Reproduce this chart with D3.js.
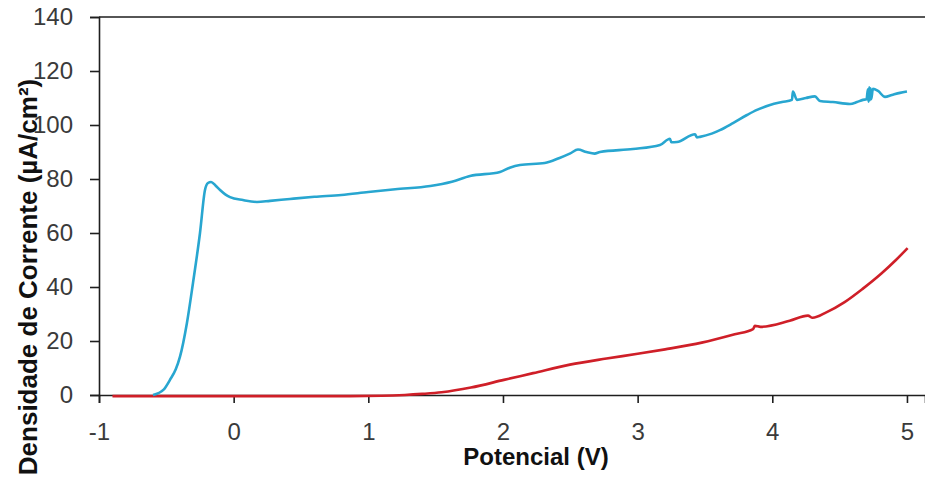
<!DOCTYPE html>
<html>
<head>
<meta charset="utf-8">
<script src="https://cdn.jsdelivr.net/npm/d3@7"></script>
<style>
  body { margin: 0; background: #fff; }
  svg { display: block; }
</style>
</head>
<body>
<svg id="chart" width="925" height="483"></svg>
<script>
// Potential (V) and current density (uA/cm2)
var cyanX = [-0.599, -0.52, -0.473, -0.43, -0.399, -0.347, -0.302, -0.25, -0.213, -0.191, -0.168, -0.135, -0.101, -0.06, -0.027, 0.069, 0.173, 0.27, 0.418, 0.6, 0.8, 1.0, 1.2, 1.46, 1.62, 1.755, 1.978, 2.05, 2.126, 2.31, 2.42, 2.5, 2.557, 2.62, 2.68, 2.72, 2.965, 3.166, 3.24, 3.25, 3.292, 3.426, 3.44, 3.463, 3.55, 3.611, 3.708, 3.812, 3.886, 3.983, 4.072, 4.146, 4.153, 4.183, 4.25, 4.317, 4.354, 4.45, 4.577, 4.629, 4.673, 4.7, 4.71, 4.715, 4.72, 4.725, 4.73, 4.735, 4.747, 4.785, 4.837, 4.888, 4.948, 5.0];
var cyanY = [0, 2.0, 5.6, 9.5, 14.1, 26.7, 41.5, 60, 75.9, 78.5, 78.9, 77.6, 75.9, 74.2, 73.3, 72.2, 71.5, 71.9, 72.6, 73.4, 74.1, 75.2, 76.2, 77.4, 79.0, 81.1, 82.6, 84.2, 85.2, 85.9, 87.8, 89.5, 90.9, 90.0, 89.4, 90.0, 91.1, 92.6, 94.9, 93.6, 93.7, 96.6, 95.4, 95.6, 96.8, 98.1, 100.7, 103.7, 105.6, 107.4, 108.5, 109.3, 112.4, 109.3, 110.0, 110.6, 108.9, 108.5, 107.8, 108.5, 109.3, 109.5, 113.2, 108.6, 114.0, 109.2, 113.6, 109.6, 113.4, 112.6, 110.4, 111.1, 111.9, 112.4];

var redX = [-0.9, -0.5, 0.0, 0.5, 0.864, 1.1, 1.272, 1.4, 1.544, 1.762, 2.007, 2.224, 2.497, 2.769, 3.0, 3.204, 3.476, 3.721, 3.857, 3.871, 3.912, 4.129, 4.265, 4.299, 4.401, 4.537, 4.673, 4.81, 4.918, 5.005];
var redY = [-0.4, -0.4, -0.4, -0.4, -0.4, -0.3, 0, 0.4, 1.0, 2.75, 5.6, 8.1, 11.25, 13.5, 15.25, 16.9, 19.4, 22.5, 24.4, 25.6, 25.25, 27.5, 29.4, 28.6, 30.6, 34.4, 39.4, 45, 50, 54.4];

// Tick labels
var xTicks = [-1, 0, 1, 2, 3, 4, 5];
var yTicks = [0, 20, 40, 60, 80, 100, 120, 140];

var svg = d3.select("#chart");

// Scales
var x = d3.scaleLinear().domain([-1, 5.134]).range([99, 925]);
var y = d3.scaleLinear().domain([0, 140]).range([395, 17]);

var axisColor = "#1e1e1e";
var tickFont = "'Liberation Sans', Arial, sans-serif";

// Top border of plot area
svg.append("line")
  .attr("x1", x(-1)).attr("x2", 925)
  .attr("y1", y(140)).attr("y2", y(140))
  .style("stroke", axisColor)
  .style("stroke-width", 1.6);

// Y axis
var yAxis = svg.append("g")
  .attr("transform", "translate(" + x(-1) + ",0)")
  .call(d3.axisLeft(y).tickValues(yTicks).tickSize(9).tickPadding(17).tickFormat(d3.format("d")));

// X axis
var xAxis = svg.append("g")
  .attr("transform", "translate(0," + y(0) + ")")
  .call(d3.axisBottom(x).tickValues(xTicks).tickSize(8).tickPadding(20).tickFormat(d3.format("d")));

[yAxis, xAxis].forEach(function(g) {
  g.select(".domain").style("stroke", axisColor).style("stroke-width", 1.6);
  g.selectAll(".tick line").style("stroke", axisColor).style("stroke-width", 1.6);
  g.selectAll(".tick text")
    .style("font-family", tickFont)
    .style("font-size", "24px")
    .style("fill", "#3a3a3a");
});

// Minus sign as a plain hyphen like the original
xAxis.selectAll(".tick text").text(function(d) { return d < 0 ? "-" + Math.abs(d) : d; });

// Curves
var line = d3.line()
  .x(function(d) { return x(d[0]); })
  .y(function(d) { return y(d[1]); })
  .curve(d3.curveMonotoneX);

var series = [
  { xs: redX, ys: redY, color: "#cf1f28" },
  { xs: cyanX, ys: cyanY, color: "#28a6d0" }
];

series.forEach(function(s) {
  var pts = s.xs.map(function(v, i) { return [v, s.ys[i]]; });
  svg.append("path")
    .datum(pts)
    .attr("d", line)
    .style("fill", "none")
    .style("stroke", s.color)
    .style("stroke-width", 2.6)
    .style("stroke-linejoin", "round");
});

// Axis titles
svg.append("text")
  .attr("x", 536)
  .attr("y", 465)
  .style("text-anchor", "middle")
  .style("font-family", tickFont)
  .style("font-weight", "bold")
  .style("font-size", "24px")
  .style("fill", "#111")
  .text("Potencial (V)");

svg.append("text")
  .attr("transform", "translate(37,277) rotate(-90)")
  .style("text-anchor", "middle")
  .style("font-family", tickFont)
  .style("font-weight", "bold")
  .style("font-size", "26px")
  .style("fill", "#111")
  .text("Densidade de Corrente (µA/cm²)");
</script>
</body>
</html>
